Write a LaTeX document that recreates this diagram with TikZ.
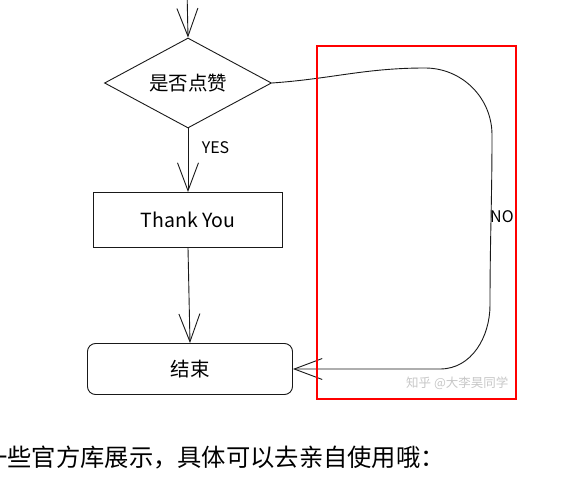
\documentclass[tikz,border=0pt]{standalone}
\usepackage{fontspec}
\newfontfamily\cjk{Noto Sans CJK SC}
\usetikzlibrary{arrows.meta}
\usetikzlibrary{shapes.geometric}
\tikzset{
    sketch/.style={draw=black!90, line width=0.9pt},
    conn/.style={sketch, -{Straight Barb[length=28pt,width=21pt,line width=0.9pt]}},
    decide/.style={sketch, diamond, minimum width=167pt, minimum height=90pt, aspect=1.85, inner sep=0pt, font=\cjk\fontsize{19.5}{20}\selectfont},
    stepbox/.style={sketch, rectangle, minimum width=189pt, minimum height=55pt, inner sep=0pt, font=\cjk\fontsize{19.5}{20}\selectfont},
    endbox/.style={sketch, rectangle, rounded corners=8pt, minimum width=205pt, minimum height=51pt, inner sep=0pt, font=\cjk\fontsize{19.5}{20}\selectfont},
    lbl/.style={font=\cjk\fontsize{16}{16}\selectfont},
}
\begin{document}
\begin{tikzpicture}[x=1pt,y=-1pt]
        \useasboundingbox (0,0) rectangle (581,489);
        \clip (0,0) rectangle (581,489);

        \coordinate (top) at (187,-10);
        \node[decide] (dec) at (188,83) {是否点赞};
        \node[stepbox] (thanks) at (188,220) {Thank You};
        \node[endbox] (finish) at (190,369) {结束};

        \draw[conn] (top) -- (dec.north);
        \draw[conn] (dec.south) -- (thanks.north) node[pos=0.3, right=10pt, lbl] {YES};
        \draw[conn] (thanks.south) -- (finish.north);

        % the NO branch runs round the right side
        \coordinate (c1) at (425,68);
        \coordinate (c2) at (492,135);
        \coordinate (c3) at (490,305);
        \coordinate (c4) at (440,369);
        \draw[conn] (dec.east) to[out=4,in=180] (c1) to[out=0,in=90] (c2)
            to[out=-90,in=90] (c3) to[out=-90,in=0] (c4) to[out=180,in=0] (finish.east);
        \node[lbl, anchor=west, inner sep=0pt] (no) at (490,217) {NO};

        % watermark and frame of the screenshot
        \node[anchor=west, inner sep=0pt, text=black!22, font=\cjk\fontsize{12.5}{13}\selectfont] (mark) at (406,383) {知乎 @大李昊同学};
        \draw[red, line width=2.6pt] (317,46) rectangle (516,399);

        \node[anchor=west, inner sep=0pt, font=\cjk\fontsize{24.3}{25}\selectfont] (caption) at (-17,458) {一些官方库展示，具体可以去亲自使用哦：};
    \end{tikzpicture}
\end{document}
